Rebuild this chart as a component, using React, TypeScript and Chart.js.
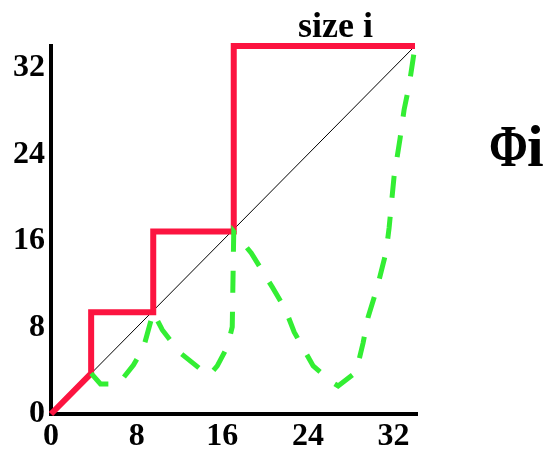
import React, { useEffect, useRef } from "react";
import { Chart, registerables } from "chart.js";

Chart.register(...registerables);

const X_TICKS = [0, 8, 16, 24, 32];
const Y_TICKS = [0, 8, 16, 24, 32];

const NUM_X = [0, 34];
const NUM_Y = [0, 34];

const SIZE_X = [0, 3.75, 3.75, 9.55, 9.55, 17.07, 17.07, 34];
const SIZE_Y = [0, 3.75, 9.4, 9.4, 16.85, 16.85, 34, 34];

const PHI_X = [3.75, 4.62, 6.3, 7.7, 8.63, 9.55, 10.4, 12.08, 14.41, 14.79, 15.53, 16.46, 16.93, 17.07, 18.7, 20.66, 21.88, 22.71, 24.49, 26.35, 26.82, 28.5, 29.15, 29.62, 30.46, 31.3, 31.58, 32.04, 32.6, 32.98, 33.44, 33.81, 34];
const PHI_Y = [3.75, 2.77, 2.77, 4.53, 6.1, 9.4, 7.76, 5.64, 3.79, 3.6, 4.44, 6.19, 8.04, 16.85, 14.88, 11.74, 9.7, 7.58, 4.44, 2.87, 2.59, 3.88, 6.56, 8.96, 11.65, 14.97, 17.19, 21.9, 25.42, 28.1, 30.31, 32.72, 34];

const TOP_LABEL = "size i";
const PHI_SYMBOL = "Φ";
const PHI_INDEX = "i";

const pts = (xs: number[], ys: number[]) => xs.map((x, i) => ({ x, y: ys[i] }));

const FONT = '"Liberation Serif", "Times New Roman", serif';

const textPlugin = {
  id: "labels",
  afterDraw(chart: any) {
    const ctx = chart.ctx;
    ctx.save();
    ctx.fillStyle = "#000";
    ctx.textBaseline = "alphabetic";
    ctx.font = `bold 36px ${FONT}`;
    ctx.textAlign = "center";
    ctx.fillText(TOP_LABEL, 335.5, 37);
    ctx.font = `bold 60px ${FONT}`;
    ctx.textAlign = "left";
    ctx.save();
    ctx.translate(489, 166);
    ctx.scale(0.78, 1);
    ctx.fillText(PHI_SYMBOL, 0, 0);
    ctx.restore();
    ctx.fillText(PHI_INDEX, 527, 166);
    ctx.restore();
  },
};

export default function App() {
  const ref = useRef<HTMLCanvasElement>(null);
  useEffect(() => {
    document.body.style.margin = "0";
    const chart = new Chart(ref.current!, {
      type: "line",
      data: {
        datasets: [
          {
            data: pts(PHI_X, PHI_Y),
            borderColor: "#33ee33",
            borderWidth: 5,
            borderDash: [22, 19],
            borderCapStyle: "butt",
            pointRadius: 0,
            tension: 0,
            order: 0,
            clip: false,
          },
          {
            data: pts(SIZE_X, SIZE_Y),
            borderColor: "#fc1440",
            borderWidth: 6,
            borderJoinStyle: "miter",
            pointRadius: 0,
            tension: 0,
            order: 1,
            clip: false,
          },
          {
            data: pts(NUM_X, NUM_Y),
            borderColor: "#000",
            borderWidth: 1,
            pointRadius: 0,
            order: 2,
            clip: false,
          },
        ],
      },
      options: {
        animation: false,
        responsive: true,
        maintainAspectRatio: false,
        layout: { padding: { top: 46, right: 137, left: 0, bottom: 0 } },
        plugins: { legend: { display: false }, tooltip: { enabled: false } },
        scales: {
          x: {
            type: "linear",
            min: 0,
            max: 34,
            grid: { display: false, drawTicks: false, lineWidth: 6 },
            border: { display: true, width: 4, color: "#000" },
            afterBuildTicks: (s: any) => {
              s.ticks = X_TICKS.map((v) => ({ value: v }));
            },
            afterFit: (s: any) => {
              s.height = 45;
            },
            ticks: {
              color: "#000",
              padding: 4,
              maxRotation: 0,
              font: { family: FONT, size: 32, weight: "bold" },
            },
          },
          y: {
            type: "linear",
            min: 0,
            max: 34,
            grid: { display: false, drawTicks: false },
            border: { display: true, width: 4, color: "#000" },
            afterBuildTicks: (s: any) => {
              s.ticks = Y_TICKS.map((v) => ({ value: v }));
            },
            afterFit: (s: any) => {
              s.width = 51;
            },
            ticks: {
              color: "#000",
              padding: 6,
              font: { family: FONT, size: 32, weight: "bold" },
            },
          },
        },
      },
      plugins: [textPlugin],
    });
    return () => chart.destroy();
  }, []);
  return (
    <div style={{ position: "relative", width: 552, height: 459 }}>
      <canvas ref={ref} />
    </div>
  );
}
